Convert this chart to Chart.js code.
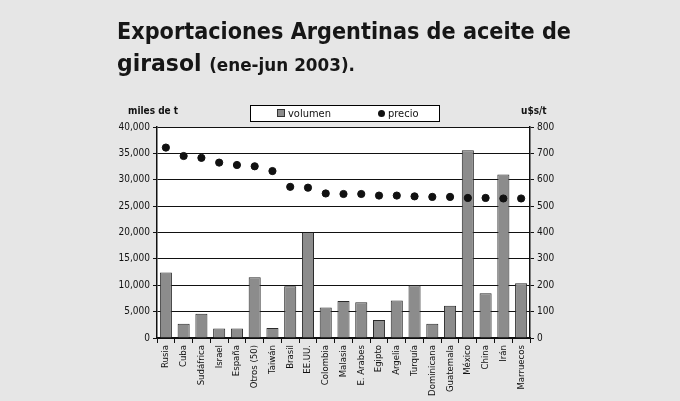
<!DOCTYPE html>
<html>
<head>
<meta charset="utf-8">
<script src="https://cdn.jsdelivr.net/npm/chart.js@4"></script>
<style>
  html, body { margin: 0; padding: 0; background: #e6e6e6; }
  #wrap { position: relative; width: 680px; height: 401px; overflow: hidden; }
  #chart { position: absolute; left: 0; top: 0; }
  .title { position: absolute; left: 117px; font-family: "DejaVu Sans", sans-serif; font-weight: bold;
           color: #161616; white-space: nowrap; line-height: normal; transform-origin: 0 0; }
  .unit { position: absolute; top: 105px; font: bold 10px "DejaVu Sans Condensed", "DejaVu Sans", sans-serif; color: #111; }
  #legend { position: absolute; left: 250px; top: 105px; width: 188px; height: 15px; background: #fff; border: 1px solid #000;
            font: 11px "DejaVu Sans Condensed", "DejaVu Sans", sans-serif; color: #111; }
  #legend span { position: absolute; top: 1px; }
  .sq { display: inline-block; width: 6px; height: 6px; background: #8c8c8c; border: 1px solid #333; margin-right: 3px; }
  .dot { display: inline-block; width: 7px; height: 7px; background: #111; border-radius: 50%; margin-right: 3px; }
</style>
</head>
<body>
<div id="wrap">
  <canvas id="chart" width="680" height="401"></canvas>
  <div class="title" id="t1" data-w="454" style="top:17px;font-size:23.5px;">Exportaciones Argentinas de aceite de</div>
  <div class="title" id="t2" data-w="238" style="top:49px;font-size:23.5px;">girasol <span style="font-size:18px;">(ene-jun 2003).</span></div>
  <div class="unit" style="left:128px;">miles de t</div>
  <div class="unit" style="left:521px;">u$s/t</div>
  <div id="legend">
    <span style="left:26px;"><i class="sq"></i>volumen</span>
    <span style="left:127px;"><i class="dot"></i>precio</span>
  </div>
</div>
<script>
const paises = ["Rusia", "Cuba", "Sudáfrica", "Israel", "España", "Otros (50)", "Taiwán", "Brasil", "EE.UU.", "Colombia",
  "Malasia", "E. Arabes", "Egipto", "Argelia", "Turquía", "Dominicana", "Guatemala", "México", "China", "Irán", "Marruecos"];
// miles de toneladas
const volumen = [12400, 2700, 4600, 1800, 1800, 11500, 1900, 9800, 20000, 5800,
  7000, 6800, 3400, 7100, 10000, 2700, 6100, 35600, 8500, 31000, 10400];
// u$s por tonelada
const precio = [722, 690, 683, 665, 656, 651, 633, 573, 570, 548,
  546, 546, 540, 540, 537, 535, 535, 531, 531, 529, 529];

const fuente = "'DejaVu Sans Condensed', 'DejaVu Sans', sans-serif";
const ink = "#111";

// el título se comprime a lo ancho hasta su medida
for (const el of document.querySelectorAll(".title")) {
  const w = el.getBoundingClientRect().width;
  el.style.transform = "scaleX(" + (Number(el.dataset.w) / w) + ")";
}

new Chart(document.getElementById("chart"), {
  data: {
    labels: paises,
    datasets: [
      {
        type: "scatter",
        label: "precio",
        data: precio,
        yAxisID: "y1",
        backgroundColor: ink,
        borderColor: ink,
        pointRadius: 3.6,
        showLine: false,
        order: 0
      },
      {
        type: "bar",
        label: "volumen",
        data: volumen,
        yAxisID: "y",
        backgroundColor: "#8c8c8c",
        borderColor: "#2a2a2a",
        borderWidth: 1,
        barPercentage: 0.68,
        categoryPercentage: 1,
        order: 1
      }
    ]
  },
  options: {
    responsive: false,
    animation: false,
    layout: { padding: { top: 127, left: 0, right: 0, bottom: 0 } },
    plugins: { legend: { display: false }, tooltip: { enabled: false } },
    scales: {
      x: {
        type: "category",
        offset: true,
        grid: { offset: true, drawOnChartArea: false, color: ink, tickLength: 5 },
        border: { color: ink, width: 1.5 },
        ticks: { color: ink, font: { family: fuente, size: 9.5 }, maxRotation: 90, minRotation: 90, autoSkip: false, padding: 2 },
        afterFit: (s) => { s.height = 63; }
      },
      y: {
        position: "left",
        min: 0, max: 40000,
        ticks: { stepSize: 5000, color: ink, font: { family: fuente, size: 10 }, padding: 3,
          callback: (v) => v.toLocaleString("en-US") },
        grid: { color: ink, lineWidth: 1, tickLength: 4 },
        border: { color: ink, width: 1.5 },
        afterFit: (s) => { s.width = 157; }
      },
      y1: {
        position: "right",
        min: 0, max: 800,
        ticks: { stepSize: 100, color: ink, font: { family: fuente, size: 10 }, padding: 3 },
        grid: { drawOnChartArea: false, color: ink, tickLength: 4 },
        border: { color: ink, width: 1.5 },
        afterFit: (s) => { s.width = 150; }
      }
    }
  },
  plugins: [{
    id: "fondoBlanco",
    beforeDraw(chart) {
      const { ctx, chartArea: a } = chart;
      ctx.save();
      ctx.fillStyle = "#fff";
      ctx.fillRect(a.left, a.top, a.right - a.left, a.bottom - a.top);
      ctx.restore();
    }
  }]
});
</script>
</body>
</html>
